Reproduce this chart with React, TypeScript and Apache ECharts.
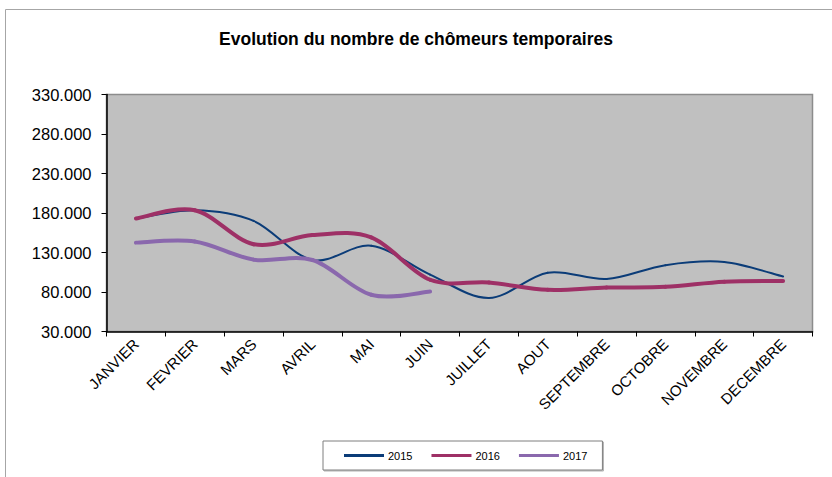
import React, { useEffect, useRef } from "react";
import * as echarts from "echarts";

const months = ["JANVIER", "FEVRIER", "MARS", "AVRIL", "MAI", "JUIN", "JUILLET", "AOUT", "SEPTEMBRE", "OCTOBRE", "NOVEMBRE", "DECEMBRE"];
const v2015 = [173000, 183500, 170000, 120500, 138500, 102000, 72500, 104500, 96500, 114000, 118000, 99500];
const v2016 = [173000, 183500, 140500, 152000, 149000, 95500, 92000, 82700, 85600, 86500, 93000, 94000];
const v2017 = [142500, 144000, 121000, 120500, 76500, 80500];
const seriesNames = ["2015", "2016", "2017"];
const seriesColors = ["#0B3C78", "#9E3066", "#8A68AD"];
const yMin = 30000;
const yMax = 330000;
const yStep = 50000;

const FONT = "'Liberation Sans', Arial, sans-serif";

function makeRenderItem(vals: number[], color: string, width: number) {
  return (params: any, api: any) => {
    const i = params.dataIndex;
    const n = vals.length;
    if (i >= n - 1) return { type: "group", children: [] };
    const pt = (k: number) => {
      const kk = Math.max(0, Math.min(n - 1, k));
      return api.coord([kk, vals[kk]]);
    };
    const p0 = pt(i - 1);
    const p1 = pt(i);
    const p2 = pt(i + 1);
    const p3 = pt(i + 2);
    const t = 1 / 6;
    return {
      type: "bezierCurve",
      shape: {
        x1: p1[0],
        y1: p1[1],
        cpx1: p1[0] + (p2[0] - p0[0]) * t,
        cpy1: p1[1] + (p2[1] - p0[1]) * t,
        cpx2: p2[0] - (p3[0] - p1[0]) * t,
        cpy2: p2[1] - (p3[1] - p1[1]) * t,
        x2: p2[0],
        y2: p2[1],
      },
      style: { stroke: color, lineWidth: width, fill: "none", lineCap: "round" },
      silent: true,
    };
  };
}

export default function App() {
  const ref = useRef<HTMLDivElement>(null);
  useEffect(() => {
    document.body.style.margin = "0";
    const chart = echarts.init(ref.current!, null, { renderer: "svg" });
    const data = [v2015, v2016, v2017];
    const widths = [2, 4, 4];
    chart.setOption({
      animation: false,
      backgroundColor: "#ffffff",
      textStyle: { fontFamily: FONT },
      title: {
        text: "Evolution du nombre de chômeurs temporaires",
        left: "center",
        top: 30,
        padding: 0,
        textStyle: { fontFamily: FONT, fontSize: 17.5, fontWeight: "bold", color: "#000" },
      },
      graphic: [
        { type: "line", shape: { x1: 5.5, y1: 9.5, x2: 832, y2: 9.5 }, style: { stroke: "#A6A6A6", lineWidth: 1 } },
        { type: "line", shape: { x1: 5.5, y1: 9.5, x2: 5.5, y2: 477 }, style: { stroke: "#A6A6A6", lineWidth: 1 } },
      ],
      legend: {
        data: seriesNames,
        left: 323,
        top: 441,
        padding: [9, 15, 9, 21],
        itemGap: 19,
        itemWidth: 40,
        itemHeight: 3,
        icon: "rect",
        borderColor: "#7F7F7F",
        borderWidth: 1,
        shadowColor: "rgba(0,0,0,0.3)",
        shadowOffsetX: 1,
        shadowOffsetY: 1,
        shadowBlur: 1,
        backgroundColor: "#fff",
        textStyle: { fontFamily: FONT, fontSize: 11, color: "#000", padding: [0, 0, 0, -1] },
      },
      grid: {
        left: 106.5,
        top: 94.5,
        right: 19.5,
        bottom: 145.5,
        show: true,
        backgroundColor: "#C0C0C0",
        borderColor: "#8C8C8C",
        borderWidth: 1.5,
      },
      xAxis: {
        type: "category",
        data: months,
        boundaryGap: true,
        axisLine: { show: true, lineStyle: { color: "#000", width: 1.5 } },
        axisTick: { show: true, length: 5, lineStyle: { color: "#000" } },
        axisLabel: { rotate: 45, fontSize: 15, color: "#000", fontFamily: FONT, margin: 10, interval: 0 },
        splitLine: { show: false },
      },
      yAxis: {
        type: "value",
        min: yMin,
        max: yMax,
        interval: yStep,
        axisLine: { show: true, lineStyle: { color: "#000", width: 1.5 } },
        axisTick: { show: true, length: 5, lineStyle: { color: "#000" } },
        axisLabel: {
          fontSize: 16.5,
          color: "#000",
          fontFamily: FONT,
          margin: 15,
          formatter: (v: number) => `${Math.round(v / 1000)}.000`,
        },
        splitLine: { show: false },
      },
      series: seriesNames.map((name, i) => ({
        name,
        type: "custom",
        data: data[i].map((v, k) => [k, v]),
        encode: { x: 0, y: 1 },
        itemStyle: { color: seriesColors[i] },
        renderItem: makeRenderItem(data[i], seriesColors[i], widths[i]),
        z: 2 + i,
      })),
    });
    return () => chart.dispose();
  }, []);
  return <div ref={ref} style={{ width: 832, height: 477 }} />;
}
